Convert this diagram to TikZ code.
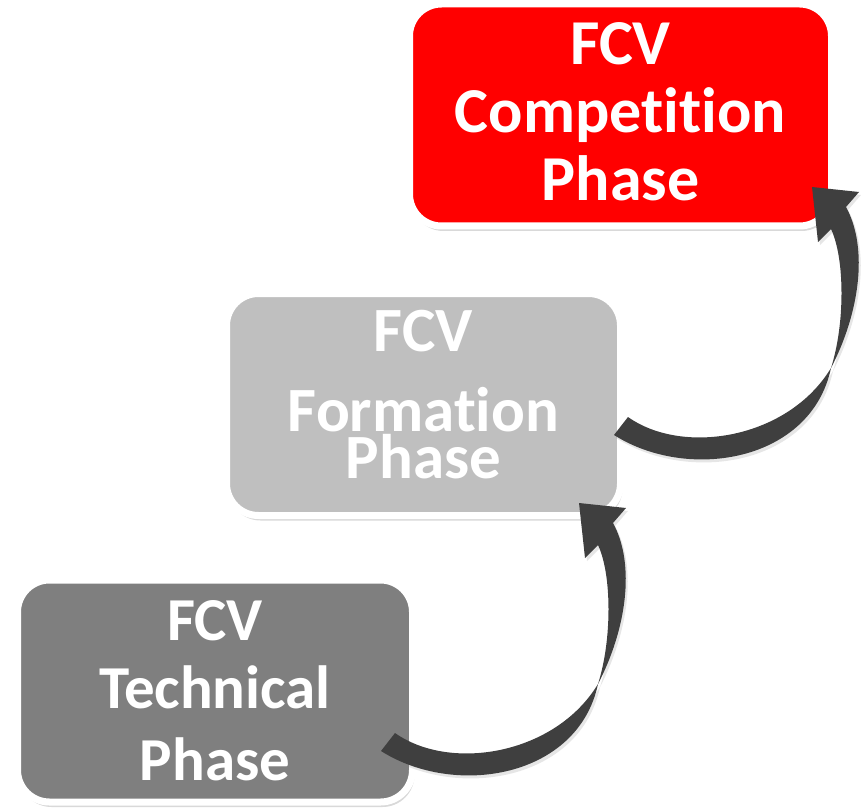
\documentclass[tikz,border=0pt]{standalone}
\usepackage{fontspec}
\setmainfont{Carlito}[Ligatures=NoCommon]
\usetikzlibrary{shadows}

\definecolor{phasered}{HTML}{FF0000}
\definecolor{phaselight}{HTML}{BFBFBF}
\definecolor{phasedark}{HTML}{7F7F7F}
\definecolor{arrowgray}{HTML}{3F3F3F}

\begin{document}
\begin{tikzpicture}[x=1pt, y=-1pt,
  phase/.style={draw=white, line width=7pt, rounded corners=32pt, minimum height=222pt, inner sep=0pt,
    align=center, text=white, font=\bfseries\fontsize{61}{68}\selectfont,
    drop shadow={shadow xshift=2pt, shadow yshift=-5pt, opacity=.3}},
  bendarrow/.style={fill=arrowgray, drop shadow={shadow xshift=2pt, shadow yshift=-3pt, opacity=.2}}]

\useasboundingbox (0,0) rectangle (861,810);

%\draw[step=50, gray!30] (0,0) grid (861,810);

\node[phase, fill=phasedark, minimum width=395pt] (tech) at (215,691) {FCV\\Technical\\[4pt]Phase};
\node[phase, fill=phaselight, minimum width=394pt, font=\bfseries\fontsize{63}{68}\selectfont] (form) at (423.5,404.5)
  {FCV\\[12pt]Formation\\[-21pt]Phase\rule[-20pt]{0pt}{20pt}};
\node[phase, fill=phasered, minimum width=422pt, font=\bfseries\fontsize{64}{68}\selectfont] (comp) at (620.5,115)
  {FCV\\Competition\\Phase\rule[-7pt]{0pt}{7pt}};

% curved arrows, the second one is the first one shifted up
\foreach \dx/\dy in {0/0, 233/-316}
\fill[bendarrow, shift={(\dx,\dy)}] (395,733) .. controls (450,772) and (555,755) .. (598,684)
  .. controls (626,630) and (636,565) .. (613,523) -- (626,508) -- (579,503) -- (585,558) -- (598,545)
  .. controls (612,575) and (612,640) .. (598,684)
  .. controls (578,778) and (455,798) .. (381,751) -- cycle;

\end{tikzpicture}
\end{document}
